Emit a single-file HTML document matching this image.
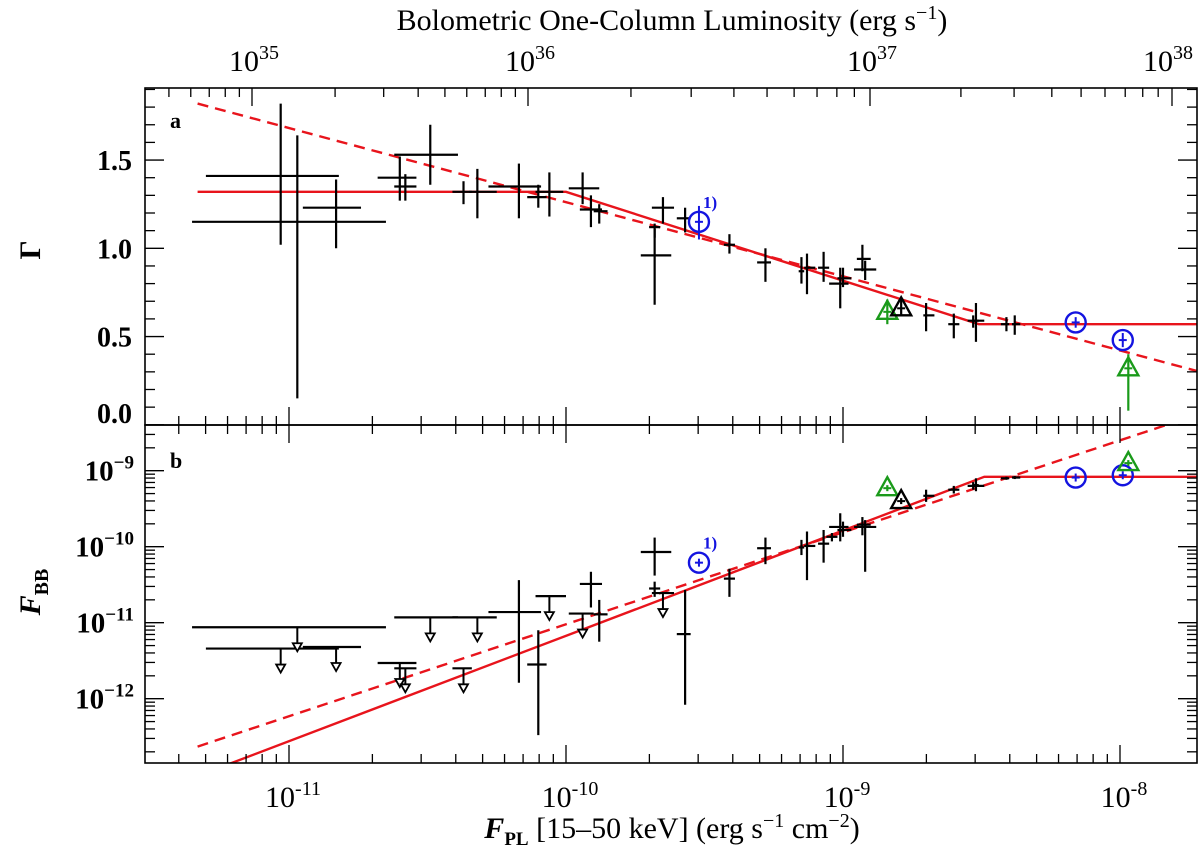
<!DOCTYPE html>
<html><head><meta charset="utf-8">
<style>
html,body{margin:0;padding:0;background:#fff;}
svg{display:block;}
text{font-family:"Liberation Serif","DejaVu Serif",serif;font-weight:bold;fill:#000;}
text.reg{font-weight:normal;}
</style></head>
<body>
<svg id="chart" width="1200" height="852" viewBox="0 0 1200 852" xmlns="http://www.w3.org/2000/svg">
<g id="g-grid"></g>
<g id="g-data"></g>
<g id="g-frame"></g>
<text class="reg" x="672" y="30" font-size="30" text-anchor="middle">Bolometric One-Column Luminosity (erg s<tspan dy="-11" font-size="20">−1</tspan><tspan dy="11">)</tspan></text>
<text class="reg" x="672" y="838" font-size="30" text-anchor="middle"><tspan font-style="italic" font-weight="bold">F</tspan><tspan dy="7" font-size="19" font-weight="bold">PL</tspan><tspan dy="-7"> [15–50 keV] (erg s</tspan><tspan dy="-11" font-size="20">−1</tspan><tspan dy="11"> cm</tspan><tspan dy="-11" font-size="20">−2</tspan><tspan dy="11">)</tspan></text>
<text transform="translate(40,250) rotate(-90)" font-size="30" text-anchor="middle">Γ</text>
<text transform="translate(40,592) rotate(-90)" font-size="30" text-anchor="middle"><tspan font-style="italic">F</tspan><tspan dy="8" font-size="20">BB</tspan></text>
<text x="170" y="128" font-size="22">a</text>
<text x="170" y="468" font-size="22">b</text>
</svg>
<script>
// ---------- data (log10 of flux values) ----------
const gLogF   = [-11.03,-10.97,-10.83,-10.60,-10.58,-10.49,-10.37,-10.32,-10.17,-10.10,-10.06,-9.94,-9.91,-9.88,-9.68,-9.68,-9.65,-9.57,-9.41,-9.28,-9.15,-9.13,-9.07,-9.01,-9.00,-8.93,-8.92,-8.70,-8.60,-8.53,-8.52,-8.41,-8.38];
const gLogFlo = [-11.30,-11.35,-10.95,-10.68,-10.62,-10.62,-10.41,-10.35,-10.28,-10.14,-10.11,-9.99,-9.95,-9.90,-9.73,-9.70,-9.69,-9.60,-9.43,-9.31,-9.16,-9.14,-9.09,-9.05,-9.02,-8.95,-8.96,-8.71,-8.62,-8.55,-8.53,-8.43,-8.39];
const gLogFhi = [-10.82,-10.65,-10.74,-10.54,-10.54,-10.39,-10.34,-10.25,-10.09,-10.07,-10.01,-9.88,-9.87,-9.85,-9.62,-9.66,-9.61,-9.55,-9.39,-9.26,-9.14,-9.10,-9.05,-8.98,-8.97,-8.90,-8.88,-8.67,-8.58,-8.49,-8.51,-8.40,-8.36];
const gamma   = [1.41,1.15,1.23,1.40,1.35,1.53,1.32,1.32,1.35,1.29,1.32,1.34,1.22,1.21,0.96,1.12,1.23,1.17,1.02,0.92,0.87,0.89,0.89,0.80,0.83,0.94,0.88,0.62,0.57,0.59,0.59,0.57,0.57];
const gammaLo = [1.02,0.15,1.00,1.27,1.27,1.36,1.25,1.17,1.17,1.23,1.18,1.25,1.12,1.14,0.68,1.06,1.14,1.09,0.97,0.81,0.80,0.74,0.81,0.66,0.78,0.87,0.82,0.53,0.49,0.55,0.47,0.53,0.51];
const gammaHi = [1.82,1.64,1.39,1.52,1.42,1.70,1.38,1.45,1.48,1.36,1.43,1.43,1.30,1.25,1.11,1.14,1.29,1.23,1.08,1.00,0.95,0.97,0.98,0.89,0.89,1.02,0.93,0.69,0.63,0.62,0.69,0.61,0.62];

const bLogF   = [-10.17,-10.10,-9.91,-9.88,-9.68,-9.68,-9.57,-9.41,-9.28,-9.15,-9.13,-9.07,-9.04,-9.01,-9.00,-8.93,-8.92,-8.70,-8.60,-8.53,-8.52,-8.41,-8.38];
const bLogFlo = [-10.28,-10.14,-9.95,-9.90,-9.73,-9.70,-9.60,-9.43,-9.31,-9.16,-9.14,-9.09,-9.06,-9.05,-9.02,-8.95,-8.96,-8.71,-8.62,-8.55,-8.53,-8.43,-8.39];
const bLogFhi = [-10.09,-10.07,-9.87,-9.85,-9.62,-9.66,-9.55,-9.39,-9.26,-9.14,-9.10,-9.05,-9.02,-8.98,-8.97,-8.90,-8.88,-8.67,-8.58,-8.49,-8.51,-8.40,-8.36];
const fbb     = [-10.86,-11.55,-10.49,-10.89,-10.07,-10.55,-11.15,-10.42,-10.02,-10.01,-9.99,-9.96,-9.87,-9.74,-9.78,-9.71,-9.74,-9.33,-9.25,-9.20,-9.19,-9.10,-9.09];
const fbbLo   = [-11.79,-12.48,-10.80,-11.25,-10.38,-10.66,-12.08,-10.66,-10.23,-10.11,-10.44,-10.21,-9.93,-9.93,-9.87,-9.85,-10.33,-9.41,-9.30,-9.25,-9.27,-9.12,-9.11];
const fbbHi   = [-10.44,-11.10,-10.33,-10.70,-9.88,-10.46,-10.57,-10.29,-9.88,-9.91,-9.80,-9.78,-9.82,-9.56,-9.67,-9.61,-9.65,-9.25,-9.20,-9.15,-9.10,-9.08,-9.07];

const ulLogF   = [-11.03,-10.97,-10.83,-10.60,-10.58,-10.49,-10.37,-10.32,-10.06,-9.94,-9.65];
const ulLogFlo = [-11.30,-11.35,-10.95,-10.68,-10.62,-10.62,-10.41,-10.41,-10.11,-9.99,-9.69];
const ulLogFhi = [-10.82,-10.65,-10.74,-10.54,-10.54,-10.39,-10.34,-10.25,-10.00,-9.90,-9.61];
const ulFbb    = [-11.34,-11.06,-11.32,-11.53,-11.60,-10.93,-11.60,-10.93,-10.65,-10.88,-10.61];

// special markers: blue circles, green triangles, black triangle
const circLogF = [-9.52,-8.16,-7.99];
const circG    = [1.15,0.58,0.48];
const circGLo  = [1.05,0.55,0.44];
const circGHi  = [1.24,0.61,0.52];
const circFbb  = [-10.21,-9.09,-9.06];
const triLogF  = [-8.84,-7.97,-8.79];
const triG     = [0.64,0.32,0.66];
const triGLo   = [0.57,0.08,0.62];
const triGHi   = [0.71,0.40,0.71];
const triFbb   = [-9.23,-8.90,-9.40];
const triColor = ['#1a9a1a','#1a9a1a','#000'];

// fit models
const gFitBreaks = [-10.0,-8.51];
const gFitLevels = [1.32,0.57];
const gFitStart  = -11.33;
const gDash      = [-11.33,1.82,-0.42];
const bFitBreak  = -8.49;
const bFitLevel  = -9.08;
const bFitSlope  = 1.386;
const bDash      = [-11.33,-12.63,1.21];

const lumExp = [35,36,37,38];

// ---------- axes ----------
const PL=145, PR=1197, T1=88, B1=425, T2=425, B2=763;
const X = lf => 566 + 277*(lf+10);
const XMIN=-10-(566-PL)/277, XMAX=-10+(PR-566)/277;
const YG = g => 248.3 - (g-1)*176.5;
const YB = lb => 470.7 - (lb+9)*76;
const lumPx = [252,528,870,1172];
const XL = e => {
  let i=Math.min(Math.max(Math.floor(e)-35,0),2);
  if(e<35) i=0;
  return lumPx[i]+(e-lumExp[i])*(lumPx[i+1]-lumPx[i]);
};
const NS='http://www.w3.org/2000/svg';
const svg=document.getElementById('chart');
const gData=document.getElementById('g-data');
const gFrame=document.getElementById('g-frame');
function mk(tag,attrs,parent){const e=document.createElementNS(NS,tag);for(const k in attrs)e.setAttribute(k,attrs[k]);(parent||gData).appendChild(e);return e;}
function line(x1,y1,x2,y2,st,sw,parent,dash){const a={x1,y1,x2,y2,stroke:st,'stroke-width':sw};if(dash)a['stroke-dasharray']=dash;return mk('line',a,parent);}

[[T1,B1,'top-panel-frame'],[T2,B2,'bottom-panel-frame']].forEach(p=>{
  const r=mk('rect',{x:PL,y:p[0],width:PR-PL,height:p[1]-p[0],fill:'none',stroke:'#000','stroke-width':1.6},gFrame);
  
  
});

for(let d=-12; d<=-7; d++){
  for(let m=1;m<10;m++){
    const lf=d+Math.log10(m); if(lf<XMIN||lf>XMAX) continue;
    const x=X(lf), L=m===1?18:9;
    line(x,B2,x,B2-L,'#000',1.3,gFrame);
    line(x,B1,x,B1-L,'#000',1.3,gFrame);
    line(x,T2,x,T2+L,'#000',1.3,gFrame);
    if(m===1){
      const t=mk('text',{x:x+4,y:B2+44,'font-size':30,'text-anchor':'middle','class':'reg'},gFrame);
      
      
      t.innerHTML='10<tspan dy="-12" font-size="20">-'+(-d)+'</tspan>';
    }
  }
}
for(let d=34; d<=37; d++){
  for(let m=1;m<10;m++){
    const e=d+Math.log10(m); const x=XL(e); if(x<PL||x>PR) continue;
    const L=m===1?18:9;
    line(x,T1,x,T1+L,'#000',1.3,gFrame);
    if(m===1 && d>=35){
      const t=mk('text',{x:x+2,y:T1-17,'font-size':30,'text-anchor':'middle','class':'reg'},gFrame);
      
      
      t.innerHTML='10<tspan dy="-12" font-size="20">'+d+'</tspan>';
    }
  }
}
{ const x=XL(38); line(x,T1,x,T1+18,'#000',1.3,gFrame);
  const t=mk('text',{x:x-4,y:T1-17,'font-size':30,'text-anchor':'middle','class':'reg'},gFrame);
  
  
  t.innerHTML='10<tspan dy="-12" font-size="20">38</tspan>'; }

for(let k=0;k<=19;k++){
  const g=k/10, y=YG(g); if(y<T1||y>B1) continue;
  const L=(k%5===0)?19:10;
  line(PL,y,PL+L,y,'#000',1.3,gFrame); line(PR,y,PR-L,y,'#000',1.3,gFrame);
  if(k%5===0){
    const t=mk('text',{x:132,y:(k===0?y-2:y+10),'font-size':28,'text-anchor':'end'},gFrame);
    
    
    t.textContent=g.toFixed(1);
  }
}
for(let d=-13; d<=-9; d++){
  for(let m=1;m<10;m++){
    const lb=d+Math.log10(m), y=YB(lb); if(y<T2+1||y>B2) continue;
    const L=m===1?19:10;
    line(PL,y,PL+L,y,'#000',1.3,gFrame); line(PR,y,PR-L,y,'#000',1.3,gFrame);
    if(m===1){
      const t=mk('text',{x:134,y:y+10,'font-size':29,'text-anchor':'end'},gFrame);
      
      
      t.innerHTML='10<tspan dy="-12" font-size="19">−'+(-d)+'</tspan>';
    }
  }
}

const defs=mk('defs',{},svg);
const c1=mk('clipPath',{id:'clipTop'},defs); mk('rect',{x:PL,y:T1,width:PR-PL,height:B1-T1},c1);
const c2=mk('clipPath',{id:'clipBot'},defs); mk('rect',{x:PL,y:T2,width:PR-PL,height:B2-T2},c2);
const gTop=mk('g',{'clip-path':'url(#clipTop)'});  
const gBot=mk('g',{'clip-path':'url(#clipBot)'});  

const RED='#e8141c';
{
  const pts=[[gFitStart,gFitLevels[0]],[gFitBreaks[0],gFitLevels[0]],[gFitBreaks[1],gFitLevels[1]],[XMAX,gFitLevels[1]]];
  const p=mk('polyline',{points:pts.map(q=>X(q[0])+','+YG(q[1])).join(' '),fill:'none',stroke:RED,'stroke-width':2.4},gTop);
   
  const e=XMAX+0.1;
  const d=line(X(gDash[0]),YG(gDash[1]),X(e),YG(gDash[1]+gDash[2]*(e-gDash[0])),RED,2.4,gTop,'11,7');
   
}
{
  const s=XMIN;
  const pts=[[s,bFitLevel+bFitSlope*(s-bFitBreak)],[bFitBreak,bFitLevel],[XMAX,bFitLevel]];
  const p=mk('polyline',{points:pts.map(q=>X(q[0])+','+YB(q[1])).join(' '),fill:'none',stroke:RED,'stroke-width':2.4},gBot);
   
  const e=XMAX+0.1;
  const d=line(X(bDash[0]),YB(bDash[1]),X(e),YB(bDash[1]+bDash[2]*(e-bDash[0])),RED,2.4,gBot,'11,7');
   
}

function cross(g,x,xl,xh,y,yl,yh,col,sw,name){
  const grp=mk('g',{},g);
  
  
  line(xl,y,xh,y,col,sw,grp); line(x,yl,x,yh,col,sw,grp);
  return grp;
}
for(let i=0;i<gLogF.length;i++){
  cross(gTop,X(gLogF[i]),X(gLogFlo[i]),X(gLogFhi[i]),YG(gamma[i]),YG(gammaLo[i]),YG(gammaHi[i]),'#000',2.2,'gamma-point');
}
for(let i=0;i<bLogF.length;i++){
  cross(gBot,X(bLogF[i]),X(bLogFlo[i]),X(bLogFhi[i]),YB(fbb[i]),YB(fbbLo[i]),YB(fbbHi[i]),'#000',2.2,'fbb-point');
}
for(let i=0;i<ulLogF.length;i++){
  const x=X(ulLogF[i]), y=YB(ulFbb[i]);
  const grp=mk('g',{},gBot);
  
  
  line(X(ulLogFlo[i]),y,X(ulLogFhi[i]),y,'#000',2.2,grp);
  line(x,y,x,y+16,'#000',2,grp);
  mk('polygon',{points:`${x-4.5},${y+16} ${x+4.5},${y+16} ${x},${y+24}`,fill:'#fff',stroke:'#000','stroke-width':1.8},grp);
}
const BLUE='#1414e0';
for(let i=0;i<circLogF.length;i++){
  const x=X(circLogF[i]);
  [[gTop,YG(circG[i]),YG(circGLo[i]),YG(circGHi[i])],[gBot,YB(circFbb[i]),YB(circFbb[i])+4,YB(circFbb[i])-4]].forEach(q=>{
    const grp=mk('g',{},q[0]);
    
    
    mk('circle',{cx:x,cy:q[1],r:10,fill:'none',stroke:BLUE,'stroke-width':2.4},grp);
    line(x-4,q[1],x+4,q[1],BLUE,2,grp); line(x,q[2],x,q[3],BLUE,2,grp);
  });
}
function tri(g,x,y,yl,yh,col){
  const grp=mk('g',{},g);
  
  
  mk('polygon',{points:`${x-10},${y+7} ${x+10},${y+7} ${x},${y-11}`,fill:'none',stroke:col,'stroke-width':2.4},grp);
  line(x-4,y,x+4,y,col,2,grp); line(x,yl,x,yh,col,2.2,grp);
}
for(let i=0;i<triLogF.length;i++){
  const x=X(triLogF[i]);
  tri(gTop,x,YG(triG[i]),YG(triGLo[i]),YG(triGHi[i]),triColor[i]);
  tri(gBot,x,YB(triFbb[i]),YB(triFbb[i])+3,YB(triFbb[i])-3,triColor[i]);
}
[[YG(circG[0])-14,'gamma-note-label'],[YB(circFbb[0])-14,'fbb-note-label']].forEach(q=>{
  const t=mk('text',{x:X(circLogF[0])+4,y:q[0],'font-size':17,fill:BLUE},gData);
  
  
  t.setAttribute('style','fill:'+BLUE);
  t.textContent='1)';
});
</script>
</body></html>
